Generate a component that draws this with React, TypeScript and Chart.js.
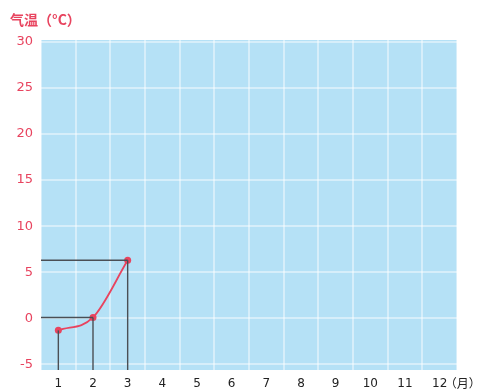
import React, { useEffect, useRef } from "react";
import { Chart, registerables } from "chart.js";

Chart.register(...registerables);

const months = ["1", "2", "3", "4", "5", "6", "7", "8", "9", "10", "11", "12"];
const temps: (number | null)[] = [-1.3, 0.1, 6.3, null, null, null, null, null, null, null, null, null];
const yTicks = [-5, 0, 5, 10, 15, 20, 25, 30];
const yTitle = "气温（°C）";
const xUnit = "（月）";

const RED = "#e8445f";
const BLUE = "#b5e1f6";
const GRID = "rgba(255,255,255,0.45)";

const bgPlugin = {
  id: "bg",
  beforeDraw(chart: any) {
    const { ctx, chartArea } = chart;
    ctx.save();
    ctx.fillStyle = BLUE;
    ctx.fillRect(chartArea.left, chartArea.top, chartArea.right - chartArea.left, chartArea.bottom - chartArea.top);
    ctx.restore();
  },
};

const guidePlugin = {
  id: "guides",
  afterDatasetsDraw(chart: any) {
    const { ctx, scales, chartArea } = chart;
    const xs = scales.x;
    const ys = scales.y;
    ctx.save();
    ctx.strokeStyle = "#4a4f55";
    ctx.lineWidth = 1.4;
    temps.forEach((v, i) => {
      if (v === null) return;
      const px = xs.getPixelForValue(i);
      const py = ys.getPixelForValue(v);
      ctx.beginPath();
      ctx.moveTo(px, py);
      ctx.lineTo(px, chartArea.bottom);
      ctx.stroke();
      if (i > 0) {
        ctx.beginPath();
        ctx.moveTo(chartArea.left, py);
        ctx.lineTo(px, py);
        ctx.stroke();
      }
    });
    ctx.restore();
  },
  afterDraw(chart: any) {
    const { ctx, scales } = chart;
    ctx.save();
    ctx.fillStyle = RED;
    ctx.font = "bold 14px 'Noto Sans CJK SC', sans-serif";
    ctx.textBaseline = "middle";
    ctx.textAlign = "left";
    ctx.fillText(yTitle, 10, 20);
    ctx.fillStyle = "#222";
    ctx.font = "12px 'Noto Sans CJK SC', sans-serif";
    const xs = scales.x;
    const last = xs.getPixelForValue(months.length - 1);
    ctx.fillText(xUnit, last + 5, 383);
    ctx.restore();
  },
};

export default function App() {
  const ref = useRef<HTMLCanvasElement | null>(null);
  useEffect(() => {
    if (!ref.current) return;
    const chart = new Chart(ref.current, {
      type: "line",
      data: {
        labels: months,
        datasets: [
          {
            data: temps,
            borderColor: RED,
            backgroundColor: RED,
            borderWidth: 1.8,
            pointRadius: 3.5,
            pointBackgroundColor: RED,
            pointBorderWidth: 0,
            cubicInterpolationMode: "monotone",
            spanGaps: false,
          },
        ],
      },
      options: {
        animation: false,
        responsive: false,
        layout: { padding: { top: 40, right: 23, left: 0, bottom: 0 } },
        plugins: { legend: { display: false }, tooltip: { enabled: false } },
        scales: {
          x: {
            type: "category",
            offset: true,
            grid: { offset: true, color: GRID, lineWidth: 2, drawTicks: false },
            border: { display: false },
            ticks: { color: "#222", font: { size: 12, family: "'DejaVu Sans', sans-serif" }, padding: 7 },
            afterFit(s: any) { s.height = 22; },
          },
          y: {
            min: -5.6,
            max: 30.2,
            afterBuildTicks(s: any) { s.ticks = yTicks.map((v) => ({ value: v })); },
            grid: { color: GRID, lineWidth: 2, drawTicks: false },
            border: { display: false },
            ticks: { color: RED, font: { size: 13, family: "'DejaVu Sans', sans-serif" }, padding: 8 },
            afterFit(s: any) { s.width = 41; },
          },
        },
      },
      plugins: [bgPlugin, guidePlugin],
    });
    return () => chart.destroy();
  }, []);
  return (
    <div style={{ position: "fixed", left: 0, top: 0, width: 480, height: 392, background: "#fff" }}>
      <canvas ref={ref} width={480} height={392} />
    </div>
  );
}
